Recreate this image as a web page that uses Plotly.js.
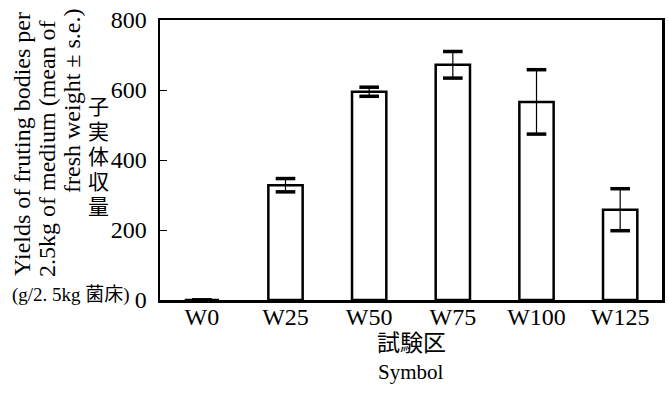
<!DOCTYPE html>
<html>
<head>
<meta charset="utf-8">
<script src="https://cdn.plot.ly/plotly-3.0.1.min.js"></script>
<style>html,body{margin:0;padding:0;background:#fff;}#chart{width:669px;height:397px;}</style>
</head>
<body>
<div id="chart"></div>
<script>
const categories = ["W0", "W25", "W50", "W75", "W100", "W125"];
const means = [0, 328, 595, 672, 566, 258];
const errors = [0, 19, 13, 38, 92, 60];
const yTickVals = [0, 200, 400, 600, 800];
const yTitleLines = ["Yields of fruting bodies per", "2.5kg of medium (mean of", "fresh weight ± s.e.)"];
const yTitleCJK = ["子", "実", "体", "収", "量"];

const FONT = "Liberation Serif, Times New Roman, serif";
const CJK = "Liberation Serif, Noto Sans CJK JP, serif";

const upper = means.map((v, i) => v + errors[i]);
const lower = means.map((v, i) => v - errors[i]);

const traces = [
  {
    type: "bar",
    x: categories,
    y: means,
    width: 0.41,
    marker: { color: "#ffffff", line: { color: "#000000", width: 2.5 } },
    error_y: { type: "data", array: errors, visible: true, color: "#000000", thickness: 1.2, width: 0 },
    hoverinfo: "skip"
  },
  {
    type: "scatter",
    mode: "markers",
    x: categories.concat(categories),
    y: upper.concat(lower),
    marker: { symbol: "line-ew", size: 14, line: { color: "#000000", width: 3.5 } },
    hoverinfo: "skip",
    cliponaxis: false
  }
];

// pixel helpers for annotation placement (plot area 160..662 x, 20..300 y)
const px = x => (x - 160) / 502;
const py = y => (300 - y) / 280;

const annotations = [
  { text: "試験区", xref: "paper", yref: "paper", x: 0.5, y: py(343), xanchor: "center", yanchor: "middle", showarrow: false, font: { family: CJK, size: 23 } },
  { text: "Symbol", xref: "paper", yref: "paper", x: 0.5, y: py(372), xanchor: "center", yanchor: "middle", showarrow: false, font: { family: FONT, size: 21 } },
  { text: yTitleLines[0], xref: "paper", yref: "paper", x: px(22), y: py(144), xanchor: "center", yanchor: "middle", textangle: -90, showarrow: false, font: { family: FONT, size: 24 } },
  { text: yTitleLines[1], xref: "paper", yref: "paper", x: px(47), y: py(149), xanchor: "center", yanchor: "middle", textangle: -90, showarrow: false, font: { family: FONT, size: 24 } },
  { text: yTitleLines[2], xref: "paper", yref: "paper", x: px(72), y: py(101), xanchor: "center", yanchor: "middle", textangle: -90, showarrow: false, font: { family: FONT, size: 24 } },
  { text: "(g/2. 5kg 菌床)", xref: "paper", yref: "paper", x: px(71), y: py(295), xanchor: "center", yanchor: "middle", showarrow: false, borderpad: 0, font: { family: CJK, size: 19 } }
];
yTitleCJK.forEach((ch, i) => {
  annotations.push({ text: ch, xref: "paper", yref: "paper", x: px(98), y: py(107 + 25 * i), xanchor: "center", yanchor: "middle", showarrow: false, font: { family: CJK, size: 21 } });
});

const layout = {
  width: 669,
  height: 397,
  margin: { l: 160, r: 7, t: 20, b: 97 },
  paper_bgcolor: "#ffffff",
  plot_bgcolor: "#ffffff",
  showlegend: false,
  font: { family: FONT, color: "#000000", size: 24 },
  xaxis: {
    type: "category",
    range: [-0.5, 5.5],
    showline: true, linecolor: "#000000", linewidth: 2.5, mirror: true,
    ticks: "", showgrid: false, zeroline: false,
    tickfont: { family: FONT, size: 24, color: "#000000" },
    ticklabelstandoff: -6,
    minor: { ticks: "inside", ticklen: 5, tickcolor: "#000000", tickwidth: 1 }
  },
  yaxis: {
    range: [0, 800],
    tickvals: yTickVals,
    ticktext: yTickVals.map(String),
    showline: true, linecolor: "#000000", linewidth: 2.5, mirror: true,
    ticks: "inside", ticklen: 7, tickwidth: 1, tickcolor: "#000000",
    showgrid: false, zeroline: false,
    tickfont: { family: FONT, size: 24, color: "#000000" },
    ticklabelstandoff: 6
  },
  annotations: annotations
};

Plotly.newPlot("chart", traces, layout, { displayModeBar: false, staticPlot: true });
</script>
</body>
</html>
